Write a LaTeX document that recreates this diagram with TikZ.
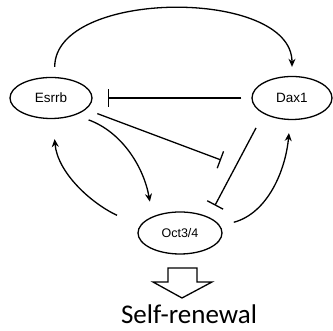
\documentclass[tikz,border=0pt]{standalone}
\usepackage{fontspec}
\newfontfamily\genefont{Liberation Sans}
\newfontfamily\fatefont{Carlito}
\usetikzlibrary{arrows.meta,shapes.geometric}
\begin{document}
\begin{tikzpicture}[x=1pt, y=1pt, >={Stealth[length=8pt, width=7pt]}, line width=1.3pt,
    gene/.style={draw, ellipse, inner sep=0pt, minimum width=82pt, minimum height=41pt, font=\genefont\fontsize{13.5}{15}\selectfont},
    inhib/.style={-{Bar[width=18pt]}}]
  \useasboundingbox (0, 0) rectangle (333, 331);
  \node[gene] (esrrb) at (51, 233) {Esrrb};
  \node[gene, minimum width=80pt, minimum height=43pt] (dax) at (292, 233) {Dax1};
  \node[gene, minimum width=84pt, minimum height=42pt, font=\genefont\fontsize{12.5}{14}\selectfont] (oct) at (180, 98) {Oct3/4};
  \coordinate (mid) at (221, 171);
  \draw[->, shorten <=10pt, shorten >=9pt] (esrrb.80) to[out=90, in=90, looseness=0.95] (dax.90);
  \draw[inhib, shorten <=10pt, shorten >=15pt] (dax.west) -- (esrrb.east);
  \draw[inhib, shorten <=12pt] (esrrb.-18) -- (mid);
  \draw[inhib, shorten <=16pt, shorten >=13pt] (dax.209) -- (oct.29);
  \draw[->, shorten <=14pt, shorten >=15pt] (esrrb.-35) to[out=-20, in=100] (oct.149);
  \draw[->, shorten <=25pt, shorten >=20pt] (oct.170) to[out=155, in=-85] (esrrb.-85);
  \draw[->, shorten <=14pt, shorten >=13pt] (oct.10) to[out=15, in=-95] (dax.-95);
  % big arrow to the outcome
  \draw (168, 63) -- (197, 63) -- (197, 49) -- (212, 49) -- (182, 33) -- (153, 49) -- (168, 49) -- cycle;
  \node[font=\fatefont\fontsize{27}{32}\selectfont, inner sep=1pt, anchor=base] (fate) at (189, 7) {Self-renewal};
\end{tikzpicture}
\end{document}
